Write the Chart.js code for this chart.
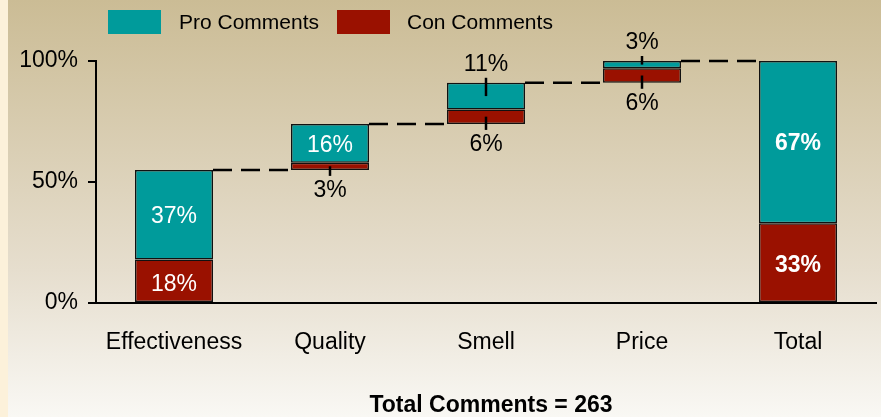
<!DOCTYPE html>
<html>
<head>
<meta charset="utf-8">
<script src="https://cdn.jsdelivr.net/npm/chart.js@4"></script>
<style>
  html, body { margin: 0; padding: 0; }
  #wrap {
    position: relative; width: 881px; height: 417px; overflow: hidden;
    background: linear-gradient(#cbbc95, #e6dece 65%, #f9f8f4);
  }
  #wrap::before {
    content: ""; position: absolute; left: 0; top: 0; width: 8px; height: 100%;
    background: #fcf1da;
  }
  canvas { position: absolute; left: 0; top: 0; }
</style>
</head>
<body>
<div id="wrap"><canvas id="c" width="881" height="417"></canvas></div>
<script>
const categories = ["Effectiveness", "Quality", "Smell", "Price", "Total"];
const proValues  = [37, 16, 11, 3, 67];
const conValues  = [18, 3, 6, 6, 33];
const yTicks     = [0, 50, 100];
const totalComments = 263;

const PRO = "#009b9b";
const CON = "#9a1100";
const FONT = "'Liberation Sans', Arial, sans-serif";

// Waterfall: each driver starts where the previous one ended; Total starts at 0.
const conBars = [], proBars = [];
let run = 0;
categories.forEach((c, i) => {
  const base = i === categories.length - 1 ? 0 : run;
  conBars.push([base, base + conValues[i]]);
  proBars.push([base + conValues[i], base + conValues[i] + proValues[i]]);
  if (i < categories.length - 1) run = base + conValues[i] + proValues[i];
});

// Small segments get their label outside the bar with a leader tick.
const SMALL = 12;

const overlay = {
  id: "overlay",
  afterDatasetsDraw(chart) {
    const ctx = chart.ctx;
    const y = chart.scales.y;
    const conEls = chart.getDatasetMeta(0).data;
    const proEls = chart.getDatasetMeta(1).data;
    const last = categories.length - 1;
    ctx.save();

    // dashed connectors between consecutive bars
    ctx.strokeStyle = "#000";
    ctx.lineWidth = 2.5;
    ctx.setLineDash([19, 9]);
    for (let i = 0; i < last; i++) {
      const a = proEls[i], b = proEls[i + 1];
      const yy = y.getPixelForValue(proBars[i][1]);
      ctx.beginPath();
      ctx.moveTo(a.x + a.width / 2, yy);
      ctx.lineTo(b.x - b.width / 2, yy);
      ctx.stroke();
    }
    ctx.setLineDash([]);

    ctx.textAlign = "center";
    ctx.textBaseline = "middle";
    categories.forEach((c, i) => {
      const x = proEls[i].x;
      const bold = i === last ? "bold " : "";
      ctx.font = bold + "23px " + FONT;

      // pro segment label
      const pTop = y.getPixelForValue(proBars[i][1]);
      const pBot = y.getPixelForValue(proBars[i][0]);
      if (proValues[i] >= SMALL) {
        ctx.fillStyle = "#fff";
        ctx.fillText(proValues[i] + "%", x, (pTop + pBot) / 2 + 2);
      } else {
        ctx.beginPath();
        ctx.moveTo(x, pTop - 5);
        ctx.lineTo(x, (pTop + pBot) / 2);
        ctx.stroke();
        ctx.fillStyle = "#000";
        ctx.fillText(proValues[i] + "%", x, pTop - 18);
      }

      // con segment label
      const cTop = y.getPixelForValue(conBars[i][1]);
      const cBot = y.getPixelForValue(conBars[i][0]);
      if (conValues[i] >= SMALL) {
        ctx.fillStyle = "#fff";
        ctx.fillText(conValues[i] + "%", x, (cTop + cBot) / 2 + 3);
      } else {
        ctx.beginPath();
        ctx.moveTo(x, (cTop + cBot) / 2);
        ctx.lineTo(x, cBot + 6);
        ctx.stroke();
        ctx.fillStyle = "#000";
        ctx.fillText(conValues[i] + "%", x, cBot + 21);
      }
    });

    // legend
    ctx.textAlign = "left";
    ctx.font = "21px " + FONT;
    ctx.fillStyle = PRO;
    ctx.fillRect(108, 10, 53, 24);
    ctx.fillStyle = CON;
    ctx.fillRect(337, 10, 53, 24);
    ctx.fillStyle = "#000";
    ctx.fillText("Pro Comments", 179, 23);
    ctx.fillText("Con Comments", 407, 23);

    // footer
    ctx.textAlign = "center";
    ctx.font = "bold 23px " + FONT;
    ctx.fillText("Total Comments = " + totalComments, 491, 406);
    ctx.restore();
  }
};

new Chart(document.getElementById("c"), {
  type: "bar",
  data: {
    labels: categories,
    datasets: [
      { label: "Con Comments", data: conBars, backgroundColor: CON },
      { label: "Pro Comments", data: proBars, backgroundColor: PRO }
    ]
  },
  options: {
    responsive: false,
    animation: false,
    layout: { padding: { top: 61, right: 5, left: 0, bottom: 0 } },
    datasets: {
      bar: {
        grouped: false,
        barPercentage: 0.5,
        categoryPercentage: 1,
        borderColor: "#111",
        borderWidth: 1.5,
        borderSkipped: false
      }
    },
    plugins: { legend: { display: false }, tooltip: { enabled: false } },
    scales: {
      x: {
        grid: { display: false, drawTicks: false },
        border: { display: true, color: "#000", width: 2 },
        ticks: { color: "#000", font: { family: FONT, size: 23 }, padding: 26 },
        afterFit: (s) => { s.height = 114; }
      },
      y: {
        min: 0,
        max: 100,
        afterBuildTicks: (s) => { s.ticks = yTicks.map(v => ({ value: v })); },
        grid: { drawOnChartArea: false, drawTicks: true, tickLength: 8, color: "#000", lineWidth: 2 },
        border: { display: true, color: "#000", width: 2 },
        ticks: { color: "#000", font: { family: FONT, size: 23 }, padding: 10, callback: (v) => v + "%" },
        afterFit: (s) => { s.width = 96; }
      }
    }
  },
  plugins: [overlay]
});
</script>
</body>
</html>
